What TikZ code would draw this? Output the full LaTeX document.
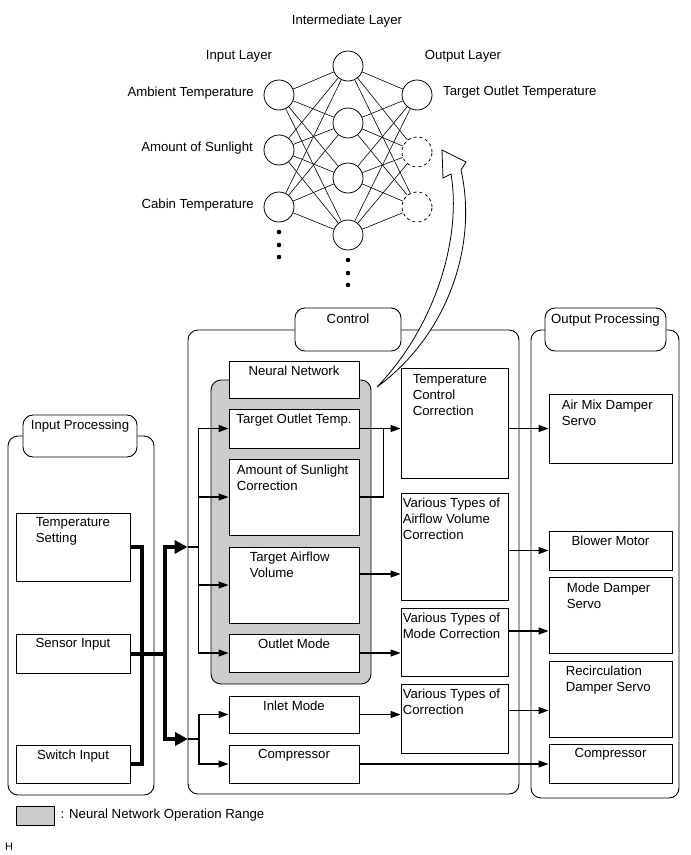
\documentclass[tikz,border=0pt]{standalone}
\usepackage{fontspec}
\setmainfont{Liberation Sans}
\usetikzlibrary{positioning,fit,arrows.meta}

\begin{document}
\begin{tikzpicture}[x=1pt, y=-1pt,
    font=\fontsize{13.2}{16}\selectfont,
    box/.style={draw, fill=white, inner sep=0pt, line width=0.9pt},
    group/.style={draw, fill=white, rounded corners=10pt, inner sep=0pt, line width=0.9pt},
    txt/.style={inner sep=0pt, align=left},
    neuron/.style={draw, circle, minimum size=30pt, inner sep=0pt, fill=white, line width=0.8pt},
    link/.style={line width=0.6pt},
    wire/.style={line width=1.2pt},
    arr/.style={line width=1.2pt, -{Triangle[length=10pt,width=7pt]}},
    bus/.style={line width=4pt},
    busarr/.style={line width=4pt, -{Triangle[length=13pt,width=13pt]}}]
    \useasboundingbox (0,0) rectangle (691,855);

    % Neural network
    \foreach \n/\y in {1/95,2/150,3/207}
        \node[neuron] (i\n) at (279,\y) {};
    \foreach \n/\y in {1/66,2/123,3/178,4/235}
        \node[neuron] (h\n) at (348,\y) {};
    \node[neuron] (o1) at (417,95) {};
    \node[neuron, dashed] (o2) at (417,152) {};
    \node[neuron, dashed] (o3) at (417,207) {};
    \foreach \a in {1,2,3}
        \foreach \b in {1,...,4}
            \draw[link] (i\a) -- (h\b);
    \foreach \b in {1,...,4}
        \foreach \c in {1,2,3}
            \draw[link] (h\b) -- (o\c);
    \foreach \y in {232,245,257}
        \fill (279,\y) circle (2.3pt);
    \foreach \y in {260,273,285}
        \fill (348,\y) circle (2.3pt);

    % Layer labels
    \node[txt] (midlbl) at (347,21) {Intermediate Layer};
    \node[txt] (inlbl) at (239,56) {Input Layer};
    \node[txt] (outlbl) at (463,56) {Output Layer};
    \node[txt, anchor=east] (amb) at (254,93) {Ambient Temperature};
    \node[txt, anchor=east] (sunl) at (253,148) {Amount of Sunlight};
    \node[txt, anchor=east] (cab) at (254,205) {Cabin Temperature};
    \node[txt, anchor=west] (tgt) at (443,92) {Target Outlet Temperature};

    % Group frames
    \node[group, fit={(8,436) (154,795)}] (inproc) {};
    \node[group, fit={(23,415) (137,457)}] (inproctab) {};
    \node[txt, below=5pt of inproctab.north] {Input Processing};
    \node[group, fit={(188,330) (519,794)}] (ctl) {};
    \node[group, fit={(295,308) (401,351)}] (ctltab) {};
    \node[txt, below=6pt of ctltab.north] {Control};
    \node[group, fit={(531,330) (679,798)}] (outproc) {};
    \node[group, fit={(545,308) (666,351)}] (outproctab) {};
    \node[txt, below=6pt of outproctab.north] {Output Processing};

    % Neural network operation range
    \node[group, fill=gray!40, fit={(211,380) (371,684)}] (nnrange) {};
    \node[box, fit={(229,361) (359,398)}] (nn) {};
    \node[txt, below=5pt of nn.north] {Neural Network};

    % Input processing boxes
    \node[box, fit={(16,513) (130,581)}] (tset) {};
    \node[txt, below right=5pt and 20pt of tset.north west] {Temperature\\Setting};
    \node[box, fit={(16,634) (130,673)}] (sens) {};
    \node[txt, below=5pt of sens.north] {Sensor Input};
    \node[box, fit={(16,745) (130,783)}] (swin) {};
    \node[txt, below=5pt of swin.north] {Switch Input};

    % Control boxes
    \node[box, fit={(229,409) (359,448)}] (tot) {};
    \node[txt, below=5pt of tot.north] {Target Outlet Temp.};
    \node[box, fit={(229,459) (359,535)}] (sun) {};
    \node[txt, below right=6pt and 8pt of sun.north west] {Amount of Sunlight\\Correction};
    \node[box, fit={(229,547) (359,623)}] (air) {};
    \node[txt, below right=5pt and 21pt of air.north west] {Target Airflow\\Volume};
    \node[box, fit={(229,634) (359,672)}] (omode) {};
    \node[txt, below=5pt of omode.north] {Outlet Mode};
    \node[box, fit={(229,696) (359,733)}] (inlet) {};
    \node[txt, below=5pt of inlet.north] {Inlet Mode};
    \node[box, fit={(229,745) (359,783)}] (comp) {};
    \node[txt, below=5pt of comp.north] {Compressor};

    \node[box, fit={(401,368) (508,478)}] (tcc) {};
    \node[txt, below right=7pt and 12pt of tcc.north west] {Temperature\\Control\\Correction};
    \node[box, fit={(401,493) (508,600)}] (vav) {};
    \node[txt, below right=5pt and 2pt of vav.north west] {Various Types of\\Airflow Volume\\Correction};
    \node[box, fit={(401,608) (508,676)}] (vmc) {};
    \node[txt, below right=5pt and 2pt of vmc.north west] {Various Types of\\Mode Correction};
    \node[box, fit={(401,684) (508,753)}] (vtc) {};
    \node[txt, below right=5pt and 2pt of vtc.north west] {Various Types of\\Correction};

    % Output processing boxes
    \node[box, fit={(549,394) (672,463)}] (airmix) {};
    \node[txt, below right=6pt and 13pt of airmix.north west] {Air Mix Damper\\Servo};
    \node[box, fit={(549,531) (672,570)}] (blower) {};
    \node[txt, below=5pt of blower.north] {Blower Motor};
    \node[box, fit={(549,577) (672,653)}] (mdamp) {};
    \node[txt, below right=6pt and 18pt of mdamp.north west] {Mode Damper\\Servo};
    \node[box, fit={(549,661) (672,737)}] (recirc) {};
    \node[txt, below right=5pt and 17pt of recirc.north west] {Recirculation\\Damper Servo};
    \node[box, fit={(549,744) (672,783)}] (ocomp) {};
    \node[txt, below=5pt of ocomp.north] {Compressor};

    % Input bus
    \coordinate (busL) at (142,600);
    \draw[bus] (tset.east) -| (busL) |- (swin.east);
    \draw[bus] (sens.east) -- ++(35,0) coordinate (busR);
    \coordinate (ctlA) at (ctl.west |- tset.east);
    \coordinate (ctlB) at (188,739);
    \draw[busarr] (busR) |- (ctlA);
    \draw[busarr] (busR) |- (ctlB);

    % Control inputs
    \draw[wire] (ctlA) -- ++(11,0) coordinate (splitA);
    \foreach \t in {tot,sun,air,omode}
        \draw[arr] (splitA) |- (\t.west);
    \draw[wire] (ctlB) -- ++(11,0) coordinate (splitB);
    \foreach \t in {inlet,comp}
        \draw[arr] (splitB) |- (\t.west);

    % Control internal
    \path (tot.east) ++(24,0) coordinate (jn);
    \draw[arr] (tot.east) -- (tot.east -| tcc.west);
    \draw[wire] (sun.east) -| (jn);
    \path (air.east) ++(0,-11) coordinate (airO);
    \draw[arr] (airO) -- (airO -| vav.west);
    \draw[arr] (omode.east) -- (omode.east -| vmc.west);
    \draw[arr] (inlet.east) -- (inlet.east -| vtc.west);
    \draw[arr] (comp.east) -- (comp.east -| ocomp.west);

    % Control to output
    \draw[arr] (airmix.west -| tcc.east) -- (airmix.west);
    \draw[arr] (blower.west -| vav.east) -- (blower.west);
    \path (vmc.east) ++(0,-11) coordinate (vmcO);
    \draw[arr] (vmcO) -- (vmcO -| mdamp.west);
    \path (vtc.east) ++(0,-8) coordinate (vtcO);
    \draw[arr] (vtcO) -- (vtcO -| recirc.west);

    % Hollow arrow to the network
    \draw[fill=white, line width=0.8pt] (377,387) .. controls (448,335) and (478,245) .. (461,170)
        -- (466,162) -- (442,150) -- (443,178) -- (451,174)
        .. controls (462,240) and (434,328) .. (377,387) -- cycle;

    % Legend
    \node[box, fill=gray!40, fit={(16,806) (54,825)}] (key) {};
    \node[txt, right=6pt of key] {: Neural Network Operation Range};
    \node[txt, font=\fontsize{11}{13}\selectfont] (hmark) at (9,847) {H};
\end{tikzpicture}
\end{document}
